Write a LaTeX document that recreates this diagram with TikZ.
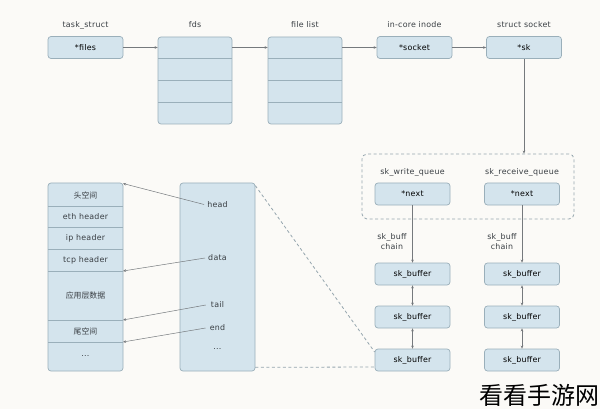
\documentclass[tikz,border=0pt]{standalone}
\usepackage{fontspec}
\setmainfont{DejaVu Sans}[LetterSpace=3]
\newfontfamily\cjk{Noto Sans CJK SC}
\usetikzlibrary{arrows.meta}
\definecolor{bgc}{HTML}{FBFAF7}
\definecolor{boxfill}{HTML}{D4E4ED}
\definecolor{boxline}{HTML}{9AAFBA}
\definecolor{txt}{HTML}{3A3F44}
\definecolor{lnc}{HTML}{75797D}
\tikzset{
  fbox/.style={draw=boxline, fill=boxfill, rounded corners=3pt, minimum width=75pt, minimum height=22pt, inner sep=0pt, line width=0.7pt},
  lbl/.style={inner sep=1pt, text=txt},
  conn/.style={draw=lnc, line width=0.5pt, -{Stealth[length=3pt,width=2.6pt]}},
  dconn/.style={draw=lnc, line width=0.5pt, {Stealth[length=3pt,width=2.6pt]}-{Stealth[length=3pt,width=2.6pt]}},
  divl/.style={draw=boxline, line width=0.7pt},
  dashl/.style={draw=boxline!80!gray, line width=0.8pt, dash pattern=on 3pt off 2.5pt},
}
\begin{document}
\begin{tikzpicture}[x=1pt,y=-1pt,font=\fontsize{7.9}{9}\selectfont]
\useasboundingbox (0,0) rectangle (600,409);
\fill[bgc] (0,0) rectangle (600,409);

% top row
\node[lbl] (l_task) at (85.5,25) {task\_struct};
\node[fbox] (files) at (85.5,47.5) {*files};
\node[lbl] (l_fds) at (195,25) {fds};
\node[fbox, minimum width=74pt, minimum height=87pt] (fds) at (195,80.5) {};
\foreach \yy in {58.5,80.5,102.5} \draw[divl] (158,\yy) -- (232,\yy);
\node[lbl] (l_fl) at (305,25) {file list};
\node[fbox, minimum width=74pt, minimum height=87pt] (fl) at (305,80.5) {};
\foreach \yy in {58.5,80.5,102.5} \draw[divl] (268,\yy) -- (342,\yy);
\node[lbl] (l_inode) at (414.5,25) {in-core inode};
\node[fbox] (inode) at (414.5,47.5) {*socket};
\node[lbl] (l_sock) at (524,25) {struct socket};
\node[fbox] (sock) at (524,47.5) {*sk};

\draw[conn] (files.east) -- (fds.west |- files.east);
\draw[conn] (fds.east |- files.east) -- (fl.west |- files.east);
\draw[conn] (fl.east |- inode.west) -- (inode.west);
\draw[conn] (inode.east) -- (sock.west);

% queues
\node[dashl, rounded corners=5pt, minimum width=212pt, minimum height=65pt, inner sep=0pt] (queues) at (468,186.5) {};
\draw[conn] (sock.south) -- (queues.north -| sock.south);
\node[lbl] (l_wq) at (412.5,172) {sk\_write\_queue};
\node[fbox] (wq) at (412.5,194) {*next};
\node[lbl] (l_rq) at (522,172) {sk\_receive\_queue};
\node[fbox] (rq) at (522,194) {*next};

\node[lbl, align=center, font=\fontsize{7.9}{10}\selectfont] (c1) at (392,241.5) {sk\_buff\\chain};
\node[lbl, align=center, font=\fontsize{7.9}{10}\selectfont] (c2) at (502,241.5) {sk\_buff\\chain};

\node[fbox] (a1) at (412.5,274) {sk\_buffer};
\node[fbox] (a2) at (412.5,317) {sk\_buffer};
\node[fbox] (a3) at (412.5,360) {sk\_buffer};
\node[fbox] (b1) at (522,274) {sk\_buffer};
\node[fbox] (b2) at (522,317) {sk\_buffer};
\node[fbox] (b3) at (522,360) {sk\_buffer};

\draw[conn] (wq.south) -- (a1.north);
\draw[conn] (rq.south) -- (b1.north);
\draw[dconn] (a1.south) -- (a2.north);
\draw[dconn] (a2.south) -- (a3.north);
\draw[dconn] (b1.south) -- (b2.north);
\draw[dconn] (b2.south) -- (b3.north);

% packet stack
\node[fbox, minimum width=75pt, minimum height=188pt] (stack) at (85.5,277) {};
\foreach \yy in {206,227.5,249,271,320,342} \draw[divl] (48,\yy) -- (123,\yy);
\node[lbl] (s1) at (85.5,195) {\cjk 头空间};
\node[lbl] (s2) at (85.5,217) {eth header};
\node[lbl] (s3) at (85.5,238.5) {ip header};
\node[lbl] (s4) at (85.5,260) {tcp header};
\node[lbl] (s5) at (85.5,296) {\cjk 应用层数据};
\node[lbl] (s6) at (85.5,331) {\cjk 尾空间};
\node[lbl] (s7) at (85.5,356) {...};

% skb struct
\node[fbox, minimum width=75pt, minimum height=188pt] (skb) at (217.5,277) {};
\node[lbl] (head) at (217.5,204.5) {head};
\node[lbl] (data) at (217.5,258) {data};
\node[lbl] (tail) at (217.5,305) {tail};
\node[lbl] (end) at (217.5,328) {end};
\node[lbl] (more) at (217.5,349) {...};

\coordinate (p_head) at (123,183.5);
\coordinate (p_data) at (123,271);
\coordinate (p_tail) at (123,320);
\coordinate (p_end) at (123,342);
\draw[conn] (head.west) ++(-2,0) -- (p_head);
\draw[conn] (data.west) ++(-2,0) -- (p_data);
\draw[conn] (tail.west) ++(-4,0) -- (p_tail);
\draw[conn] (end.west) ++(-3,0) -- (p_end);

% dashed zoom lines
\draw[dashl] (skb.north east) ++(0,3) -- ([yshift=8pt]a3.west);
\draw[dashl] (skb.south east) ++(0,-4) -- ([yshift=-7pt]a3.west);

% watermark
\node[inner sep=0pt, anchor=south east] (wm) at (600,407) {\cjk\fontsize{24}{26}\selectfont 看看手游网};
\end{tikzpicture}
\end{document}
